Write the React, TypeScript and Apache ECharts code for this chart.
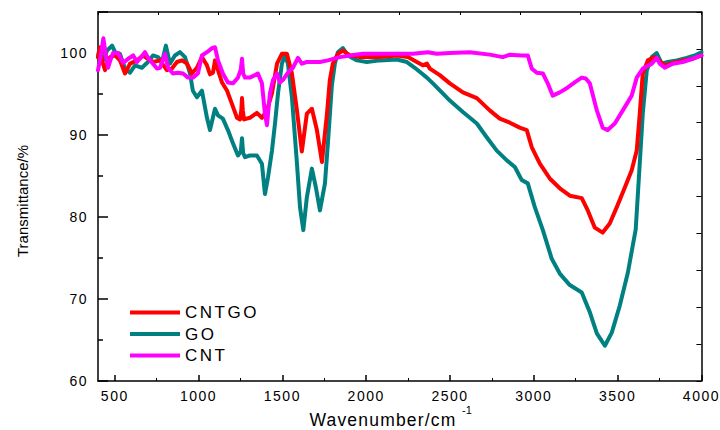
import React, { useEffect, useRef } from 'react';
import * as echarts from 'echarts';

// Wavenumber (cm^-1) and transmittance (%)
const cntgoWave = [400, 412, 425, 442, 457, 472, 502, 531, 561, 591, 633, 668, 698, 728, 770, 811, 841, 871, 901, 931, 960, 990, 1020, 1050, 1068, 1086, 1098, 1116, 1140, 1170, 1199, 1229, 1247, 1255, 1259, 1264, 1271, 1306, 1348, 1378, 1408, 1438, 1468, 1497, 1527, 1557, 1587, 1616, 1646, 1676, 1706, 1736, 1766, 1783, 1801, 1831, 1861, 1903, 1962, 2081, 2183, 2249, 2302, 2338, 2362, 2380, 2439, 2499, 2577, 2660, 2737, 2797, 2857, 2916, 2958, 2988, 3036, 3095, 3155, 3215, 3286, 3322, 3364, 3411, 3453, 3495, 3543, 3584, 3614, 3632, 3650, 3680, 3721, 3781, 3850, 3950, 4000];
const cntgoT = [99.5, 100.7, 99.0, 97.9, 98.8, 99.5, 99.7, 99.1, 97.5, 98.7, 99.1, 99.7, 99.3, 98.9, 99.1, 97.9, 98.1, 98.9, 99.1, 98.7, 97.5, 98.2, 99.5, 98.5, 97.4, 97.6, 99.1, 97.9, 96.4, 95.4, 93.8, 92.1, 91.9, 93.0, 94.5, 93.0, 91.9, 92.1, 92.7, 92.1, 93.0, 95.1, 98.7, 99.9, 99.9, 97.5, 93.0, 88.0, 92.6, 93.2, 90.6, 86.7, 92.6, 96.7, 98.7, 99.9, 100.3, 99.7, 99.5, 99.5, 99.7, 99.5, 98.9, 98.5, 98.7, 98.1, 97.3, 96.3, 95.2, 94.5, 93.0, 92.0, 91.5, 90.9, 90.6, 88.5, 86.5, 84.7, 83.5, 82.6, 82.3, 80.8, 78.7, 78.1, 79.2, 81.2, 83.6, 85.7, 88.1, 92.6, 97.5, 99.1, 99.5, 98.5, 98.9, 99.3, 99.7];

const goWave = [400, 406, 430, 454, 484, 502, 531, 561, 591, 621, 662, 698, 728, 758, 782, 805, 829, 859, 889, 919, 949, 966, 990, 1020, 1050, 1068, 1098, 1116, 1145, 1175, 1205, 1235, 1252, 1259, 1266, 1277, 1306, 1348, 1378, 1396, 1414, 1438, 1456, 1474, 1497, 1515, 1533, 1557, 1587, 1605, 1625, 1646, 1676, 1700, 1724, 1754, 1775, 1795, 1813, 1831, 1861, 1891, 1945, 2004, 2081, 2183, 2243, 2290, 2332, 2362, 2398, 2451, 2499, 2577, 2660, 2720, 2779, 2839, 2887, 2928, 2964, 3006, 3054, 3107, 3155, 3215, 3286, 3334, 3376, 3424, 3465, 3513, 3561, 3608, 3632, 3650, 3674, 3704, 3733, 3763, 3799, 3853, 3912, 3960, 4000];
const goT = [99.5, 100.3, 99.1, 100.3, 100.9, 100.1, 99.9, 98.1, 97.6, 98.5, 98.2, 98.9, 99.7, 99.5, 98.9, 100.9, 98.7, 99.7, 100.1, 99.5, 97.5, 95.4, 94.6, 95.4, 92.1, 90.6, 93.2, 92.4, 92.0, 90.6, 89.0, 87.5, 88.0, 89.6, 87.8, 87.3, 87.5, 87.5, 86.5, 82.8, 84.8, 88.1, 91.4, 95.1, 98.7, 99.7, 98.7, 94.6, 86.5, 81.2, 78.4, 82.4, 85.9, 83.6, 80.8, 84.1, 90.0, 96.0, 98.7, 100.1, 100.6, 99.7, 99.1, 98.9, 99.1, 99.2, 98.9, 98.2, 97.5, 97.0, 96.3, 95.2, 94.2, 92.8, 91.4, 89.7, 88.1, 86.9, 86.1, 84.5, 84.1, 81.2, 78.4, 74.9, 73.1, 71.7, 70.8, 68.4, 65.8, 64.3, 65.9, 69.2, 73.2, 78.5, 86.5, 92.6, 97.9, 99.5, 100.0, 98.7, 98.9, 99.1, 99.4, 99.7, 100.1];

const cntWave = [400, 415, 432, 445, 452, 460, 475, 490, 520, 550, 580, 610, 633, 650, 680, 700, 728, 752, 770, 800, 818, 847, 877, 907, 937, 966, 996, 1020, 1050, 1080, 1098, 1116, 1145, 1175, 1205, 1235, 1252, 1259, 1266, 1277, 1306, 1336, 1354, 1378, 1396, 1408, 1426, 1444, 1468, 1485, 1503, 1533, 1563, 1593, 1616, 1646, 1682, 1724, 1771, 1843, 1903, 1980, 2081, 2183, 2278, 2368, 2421, 2499, 2618, 2737, 2815, 2857, 2928, 2964, 2988, 3018, 3054, 3083, 3113, 3155, 3203, 3250, 3286, 3310, 3334, 3376, 3411, 3441, 3483, 3531, 3584, 3614, 3650, 3704, 3733, 3751, 3781, 3829, 3888, 3948, 4000];
const cntT = [97.9, 99.5, 101.8, 100.0, 99.1, 98.2, 99.2, 100.0, 100.0, 98.8, 99.3, 99.7, 98.9, 99.3, 100.1, 99.4, 98.7, 98.1, 98.2, 99.9, 98.2, 97.5, 97.6, 97.5, 97.0, 97.0, 97.5, 99.7, 100.1, 100.6, 100.7, 99.1, 97.5, 96.4, 96.3, 97.0, 98.0, 99.3, 97.5, 97.0, 97.0, 97.3, 97.5, 96.3, 92.6, 91.2, 95.1, 96.7, 97.5, 96.4, 96.7, 97.6, 98.2, 99.4, 98.7, 98.9, 98.9, 98.9, 99.1, 99.5, 99.7, 99.9, 99.9, 99.9, 99.9, 100.1, 99.9, 100.0, 100.1, 99.8, 99.5, 99.8, 99.7, 99.7, 98.1, 97.6, 97.5, 96.3, 94.8, 95.2, 95.8, 96.5, 97.0, 96.9, 96.3, 93.0, 90.9, 90.6, 91.4, 93.0, 94.8, 97.0, 98.1, 98.7, 99.4, 98.7, 98.2, 98.7, 98.9, 99.3, 99.7];

const seriesNames = ['CNTGO', 'GO', 'CNT'];
const xTickValues = [500, 1000, 1500, 2000, 2500, 3000, 3500, 4000];
const xMinorTickValues = [750, 1250, 1750, 2250, 2750, 3250, 3750];
const yLabelValues = [60, 70, 80, 90, 100];
const xMin = 400;
const xMax = 4000;
const yMin = 60;
const yMax = 105;
const yInterval = 10;

const FONT = '"Liberation Sans", Arial, Helvetica, sans-serif';

const pairs = (w: number[], t: number[]) => w.map((x, i) => [x, t[i]]);

export default function App() {
  const ref = useRef<HTMLDivElement>(null);
  useEffect(() => {
    if (!ref.current) return;
    const chart = echarts.init(ref.current, null, { renderer: 'svg' });
    const black = '#000';
    chart.setOption({
      animation: false,
      backgroundColor: '#fff',
      textStyle: { fontFamily: FONT },
      grid: { left: 98, right: 18, top: 12, bottom: 49, containLabel: false },
      legend: {
        data: seriesNames,
        orient: 'vertical',
        left: 125,
        top: 299,
        itemWidth: 50,
        itemHeight: 4,
        itemGap: 4.5,
        icon: 'rect',
        textStyle: { fontSize: 17, lineHeight: 17, color: black, fontFamily: FONT },
      },
      xAxis: [
        {
          type: 'value', min: xMin, max: xMax, position: 'bottom',
          axisLine: { show: true, lineStyle: { color: black, width: 1.5 } },
          axisTick: { show: true, inside: true, length: 6, customValues: xTickValues, lineStyle: { color: black, width: 1.5 } },
          axisLabel: {
            show: true, customValues: xTickValues, color: black, fontSize: 14, margin: 8, fontFamily: FONT,
            formatter: (v: number) => String(v),
          },
          splitLine: { show: false },
        },
        {
          type: 'value', min: 0, max: 10, interval: 1, position: 'top',
          axisLine: { show: true, lineStyle: { color: black, width: 1.5 } },
          axisTick: { show: true, inside: true, length: 3, lineStyle: { color: black, width: 1 } },
          axisLabel: { show: false },
          splitLine: { show: false },
        },
        {
          type: 'value', min: xMin, max: xMax, position: 'bottom',
          axisLine: { show: false },
          axisTick: { show: true, inside: true, length: 3, customValues: xMinorTickValues, lineStyle: { color: black, width: 1 } },
          axisLabel: { show: false },
          splitLine: { show: false },
        },
      ],
      yAxis: [
        {
          type: 'value', min: yMin, max: yMax, interval: yInterval, position: 'left',
          axisLine: { show: true, lineStyle: { color: black, width: 1.5 } },
          axisTick: { show: true, inside: true, length: 10, lineStyle: { color: black, width: 1.5 } },
          minorTick: { show: true, splitNumber: 2, length: 5, lineStyle: { color: black, width: 1.5 } },
          axisLabel: {
            color: black, fontSize: 14, margin: 10, fontFamily: FONT, customValues: yLabelValues,
            formatter: (v: number) => String(v),
          },
          splitLine: { show: false },
          minorSplitLine: { show: false },
        },
        {
          type: 'value', min: 0, max: 10, interval: 1, position: 'right',
          axisLine: { show: true, lineStyle: { color: black, width: 1.5 } },
          axisTick: { show: true, inside: true, length: 5, lineStyle: { color: black, width: 1 } },
          axisLabel: { show: false },
          splitLine: { show: false },
        },
      ],
      series: [
        {
          name: 'GO', type: 'line', xAxisIndex: 0, yAxisIndex: 0, data: pairs(goWave, goT),
          showSymbol: false, symbol: 'none', color: '#008080',
          lineStyle: { width: 4, color: '#008080', join: 'round', cap: 'round' }, z: 2,
        },
        {
          name: 'CNTGO', type: 'line', xAxisIndex: 0, yAxisIndex: 0, data: pairs(cntgoWave, cntgoT),
          showSymbol: false, symbol: 'none', color: '#ff0000',
          lineStyle: { width: 4, color: '#ff0000', join: 'round', cap: 'round' }, z: 3,
        },
        {
          name: 'CNT', type: 'line', xAxisIndex: 0, yAxisIndex: 0, data: pairs(cntWave, cntT),
          showSymbol: false, symbol: 'none', color: '#ff00ff',
          lineStyle: { width: 4, color: '#ff00ff', join: 'round', cap: 'round' }, z: 4,
        },
      ],
      graphic: [
        {
          type: 'text', x: 22, y: 201, rotation: Math.PI / 2,
          style: { text: 'Transmittance/%', fontSize: 15, fontFamily: FONT, fill: black, textAlign: 'center', textVerticalAlign: 'middle' },
        },
        {
          type: 'text', x: 383, y: 420,
          style: { text: 'Wavenumber/cm', fontSize: 17.5, fontFamily: FONT, fill: black, textAlign: 'center', textVerticalAlign: 'middle' },
        },
        {
          type: 'text', x: 462, y: 410,
          style: { text: '-1', fontSize: 11, fontFamily: FONT, fill: black, textAlign: 'left', textVerticalAlign: 'middle' },
        },
      ],
    });
    return () => chart.dispose();
  }, []);

  const css =
    '.irchart text[style*="14px"]{letter-spacing:1.5px}' +
    '.irchart text[style*="17px"]{letter-spacing:2.5px}' +
    '.irchart text[style*="17.5px"]{letter-spacing:1.2px}';

  return (
    <div style={{ position: 'fixed', left: 0, top: 0, width: 720, height: 430, background: '#fff' }}>
      <style>{css}</style>
      <div ref={ref} className="irchart" style={{ width: 720, height: 430 }} />
    </div>
  );
}
